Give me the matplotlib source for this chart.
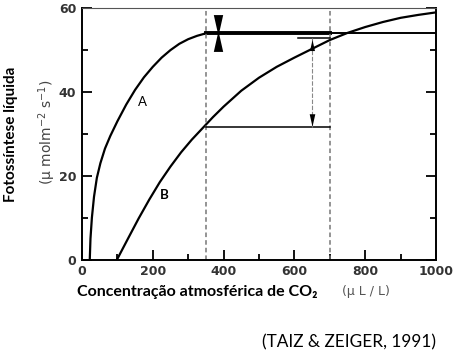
import numpy as np
import matplotlib
matplotlib.use("Agg")
import matplotlib.pyplot as plt
from matplotlib.ticker import MultipleLocator

# curve A (C4-like) and curve B (C3-like)
co2_a = [22, 24, 28, 34, 42, 52, 65, 80, 100, 125, 150, 175, 200, 225, 250,
         275, 300, 325, 350]
photo_a = [0, 5, 10, 15, 19.5, 23, 26.5, 29.5, 33, 37, 40.5, 43.5, 46, 48.2,
           50, 51.5, 52.6, 53.4, 54]

co2_b = [99, 130, 160, 190, 220, 250, 280, 310, 340, 370, 400, 450, 500,
         550, 600, 650, 700, 750, 800, 850, 900, 950, 1000]
photo_b = [0, 5, 9.8, 14.3, 18.5, 22.2, 25.6, 28.6, 31.3, 34, 36.5, 40.3,
           43.4, 46, 48.2, 50.3, 52.4, 54.1, 55.5, 56.7, 57.7, 58.4, 59]

plateau = 54
co2_today = 350
co2_double = 700
b_today = 31.6
b_double = 52.9
arrow_x = 650
hourglass_x = 385

x_ticks = [0, 200, 400, 600, 800, 1000]
y_ticks = [0, 20, 40, 60]

plt.rcParams['font.family'] = ['Lato', 'DejaVu Sans']

fig = plt.figure(figsize=(4.58, 3.56), dpi=100)
ax = fig.add_axes([0.179, 0.271, 0.773, 0.706])

ax.plot(co2_a, photo_a, color='black', lw=1.6)
ax.plot(co2_b, photo_b, color='black', lw=1.6)

# plateau of A: thick between the two dashed lines, thin afterwards
ax.plot([co2_today, co2_double], [plateau, plateau], color='black', lw=2.8)
ax.plot([co2_double, 1000], [plateau, plateau], color='black', lw=1.4)

for xv in [co2_today, co2_double]:
    ax.axvline(xv, color='#777777', lw=1.1, ls=(0, (3, 2)))

ax.plot([co2_today, co2_double], [b_today, b_today], color='black', lw=1.1)
ax.plot([610, co2_double], [b_double, b_double], color='black', lw=1.1)
ax.plot([arrow_x, arrow_x], [b_double, b_today], color='#888888', lw=0.8,
        ls=(0, (4, 1.5)))

tall_down = [(-0.45, 1), (0.45, 1), (0, -1), (-0.45, 1)]
tall_up = [(-0.45, -1), (0.45, -1), (0, 1), (-0.45, -1)]
ax.plot(hourglass_x, plateau + 1.9, marker=tall_down, ms=15, color='black', mew=0)
ax.plot(hourglass_x, plateau - 1.9, marker=tall_up, ms=15, color='black', mew=0)
ax.plot(arrow_x, b_double - 1.6, marker=tall_up, ms=8, color='black', mew=0)
ax.plot(arrow_x, b_today + 1.8, marker=tall_down, ms=9, color='black', mew=0)

ax.text(172, 37.5, 'A', fontsize=9.5, ha='center', va='center')
ax.text(232, 15.5, 'B', fontsize=9.5, fontweight='bold', ha='center', va='center')

ax.set_xlim(0, 1000)
ax.set_ylim(0, 60)
ax.set_xticks(x_ticks)
ax.set_yticks(y_ticks)
ax.xaxis.set_minor_locator(MultipleLocator(100))
ax.yaxis.set_minor_locator(MultipleLocator(10))
ax.tick_params(which='both', direction='in', right=True, top=False, width=1.3,
               labelcolor='#333333')
ax.tick_params(which='major', length=7, labelsize=9, pad=4)
ax.tick_params(which='minor', length=4)
for lab in ax.get_xticklabels() + ax.get_yticklabels():
    lab.set_family('DejaVu Sans')
    lab.set_fontweight('bold')
for side in ['left', 'bottom', 'right', 'top']:
    ax.spines[side].set_linewidth(1.4)
ax.spines['top'].set_color('#555555')
ax.spines['top'].set_linewidth(0.8)

fig.text(0.025, 0.622, 'Fotossíntese líquida', rotation=90, fontsize=11,
         fontweight='bold', ha='center', va='center')
fig.text(0.103, 0.629, '(μ molm$^{-2}$ s$^{-1}$)', rotation=90, fontsize=10,
         color='#444444', family='DejaVu Sans', ha='center', va='center')
fig.text(0.168, 0.18, 'Concentração atmosférica de CO₂', fontsize=11.5,
         fontweight='bold', ha='left', va='center')
fig.text(0.747, 0.18, '(μ L / L)', fontsize=9, color='#555555',
         family='DejaVu Sans', ha='left', va='center')
fig.text(0.951, 0.037, '(TAIZ & ZEIGER, 1991)', fontsize=12.4, ha='right',
         va='center')

fig.savefig('out.png', dpi=100)
